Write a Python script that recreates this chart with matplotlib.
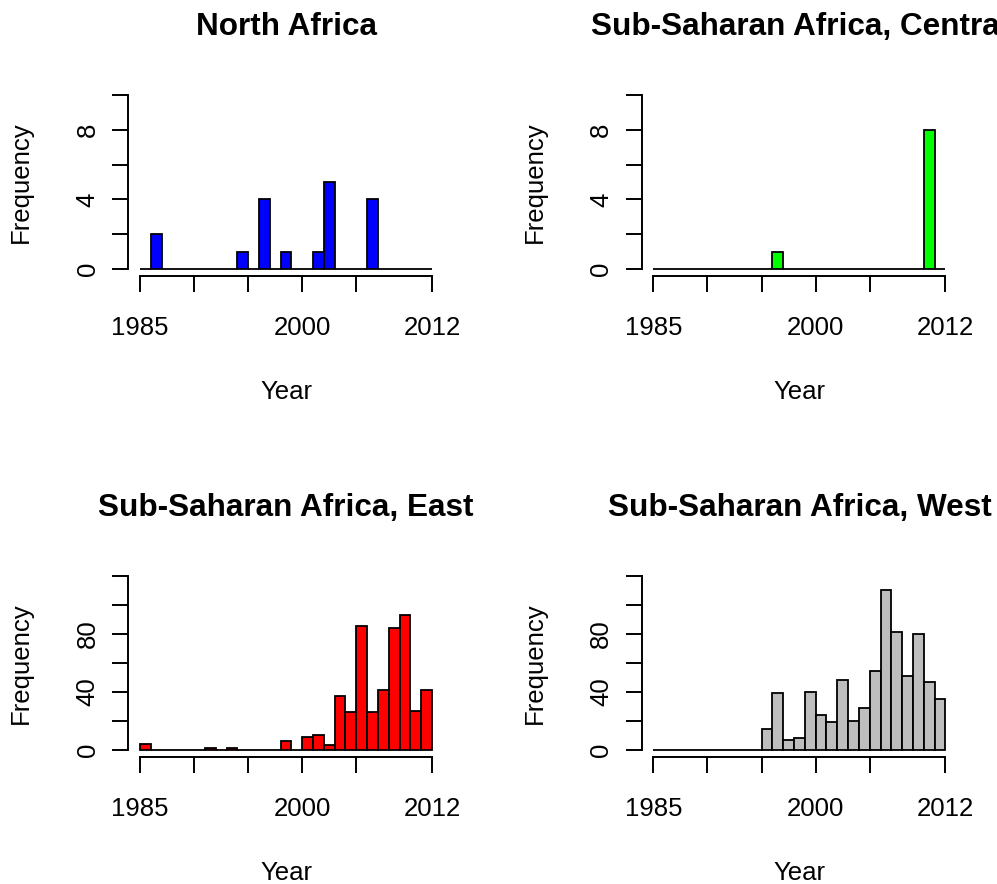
import numpy as np
import matplotlib
matplotlib.use("Agg")
import matplotlib.pyplot as plt

plt.rcParams['font.family'] = ['Liberation Sans', 'DejaVu Sans']

# one-year bins from 1985 to 2012
years = np.arange(1985, 2012)

north = [0, 2, 0, 0, 0, 0, 0, 0, 0, 1, 0, 4, 0, 1, 0, 0, 1, 5, 0, 0, 0, 4, 0, 0, 0, 0, 0]
central = [0, 0, 0, 0, 0, 0, 0, 0, 0, 0, 0, 1, 0, 0, 0, 0, 0, 0, 0, 0, 0, 0, 0, 0, 0, 8, 0]
east = [4, 0, 0, 0, 0, 0, 1, 0, 1, 0, 0, 0, 0, 6, 0, 9, 10, 3, 37, 26, 85, 26, 41, 84, 93, 27, 41]
west = [0, 0, 0, 0, 0, 0, 0, 0, 0, 0, 14, 39, 7, 8, 40, 24, 19, 48, 20, 29, 54, 110, 81, 51, 80, 47, 35]

titles = ["North Africa", "Sub-Saharan Africa, Central",
          "Sub-Saharan Africa, East", "Sub-Saharan Africa, West"]
series = [north, central, east, west]
colors = ["#0000FF", "#00FF00", "#FF0000", "#BEBEBE"]
ymaxes = [10, 10, 120, 120]
ysteps = [2, 2, 20, 20]
ylabeled = [[0, 4, 8], [0, 4, 8], [0, 40, 80], [0, 40, 80]]

xticks = [1985, 1990, 1995, 2000, 2005, 2012]
xlabeled = [1985, 2000, 2012]

W, H = 997, 884
fig = plt.figure(figsize=(W / 100, H / 100), dpi=100)

# panel boxes in pixels: left, top
lefts = [128.3, 641.7, 128.3, 641.7]
tops = [88, 88, 568.7, 568.7]
pw, ph = 315.4, 188

for i in range(4):
    l, t = lefts[i], tops[i]
    ax = fig.add_axes([l / W, 1 - (t + ph) / H, pw / W, ph / H])
    ax.bar(years, series[i], width=1, align='edge', color=colors[i],
           edgecolor='black', linewidth=1.3)
    span = 2012 - 1985
    ax.set_xlim(1985 - 0.04 * span, 2012 + 0.04 * span)
    ym = ymaxes[i]
    ax.set_ylim(-0.04 * ym, ym * 1.04)
    for s in ['top', 'right']:
        ax.spines[s].set_visible(False)
    ax.spines['left'].set_bounds(0, ym)
    ax.spines['bottom'].set_bounds(1985, 2012)
    ax.spines['left'].set_linewidth(1.4)
    ax.spines['bottom'].set_linewidth(1.4)
    yt = np.arange(0, ym + 1, ysteps[i])
    ax.set_yticks(yt)
    ax.set_yticklabels([str(v) if v in ylabeled[i] else '' for v in yt],
                       rotation=90, va='center', ha='right')
    ax.set_xticks(xticks)
    ax.set_xticklabels([str(v) if v in xlabeled else '' for v in xticks])
    ax.tick_params(axis='both', direction='out', length=11.5, width=1.4,
                   labelsize=18.5)
    ax.tick_params(axis='x', pad=17.5)
    ax.tick_params(axis='y', pad=9)
    ax.patch.set_visible(False)

    cx = l + pw / 2
    fig.text(cx / W, 1 - (t - 53) / H, titles[i], ha='center',
             va='baseline', fontsize=22.7, fontweight='bold')
    fig.text(cx / W, 1 - (t + ph + 116) / H, "Year", ha='center',
             va='center', fontsize=18.5)
    fig.text((l - 107) / W, 1 - (t + ph / 2) / H, "Frequency",
             ha='center', va='center', rotation=90, fontsize=18.5)

fig.savefig("out.png", dpi=100, facecolor='white')
